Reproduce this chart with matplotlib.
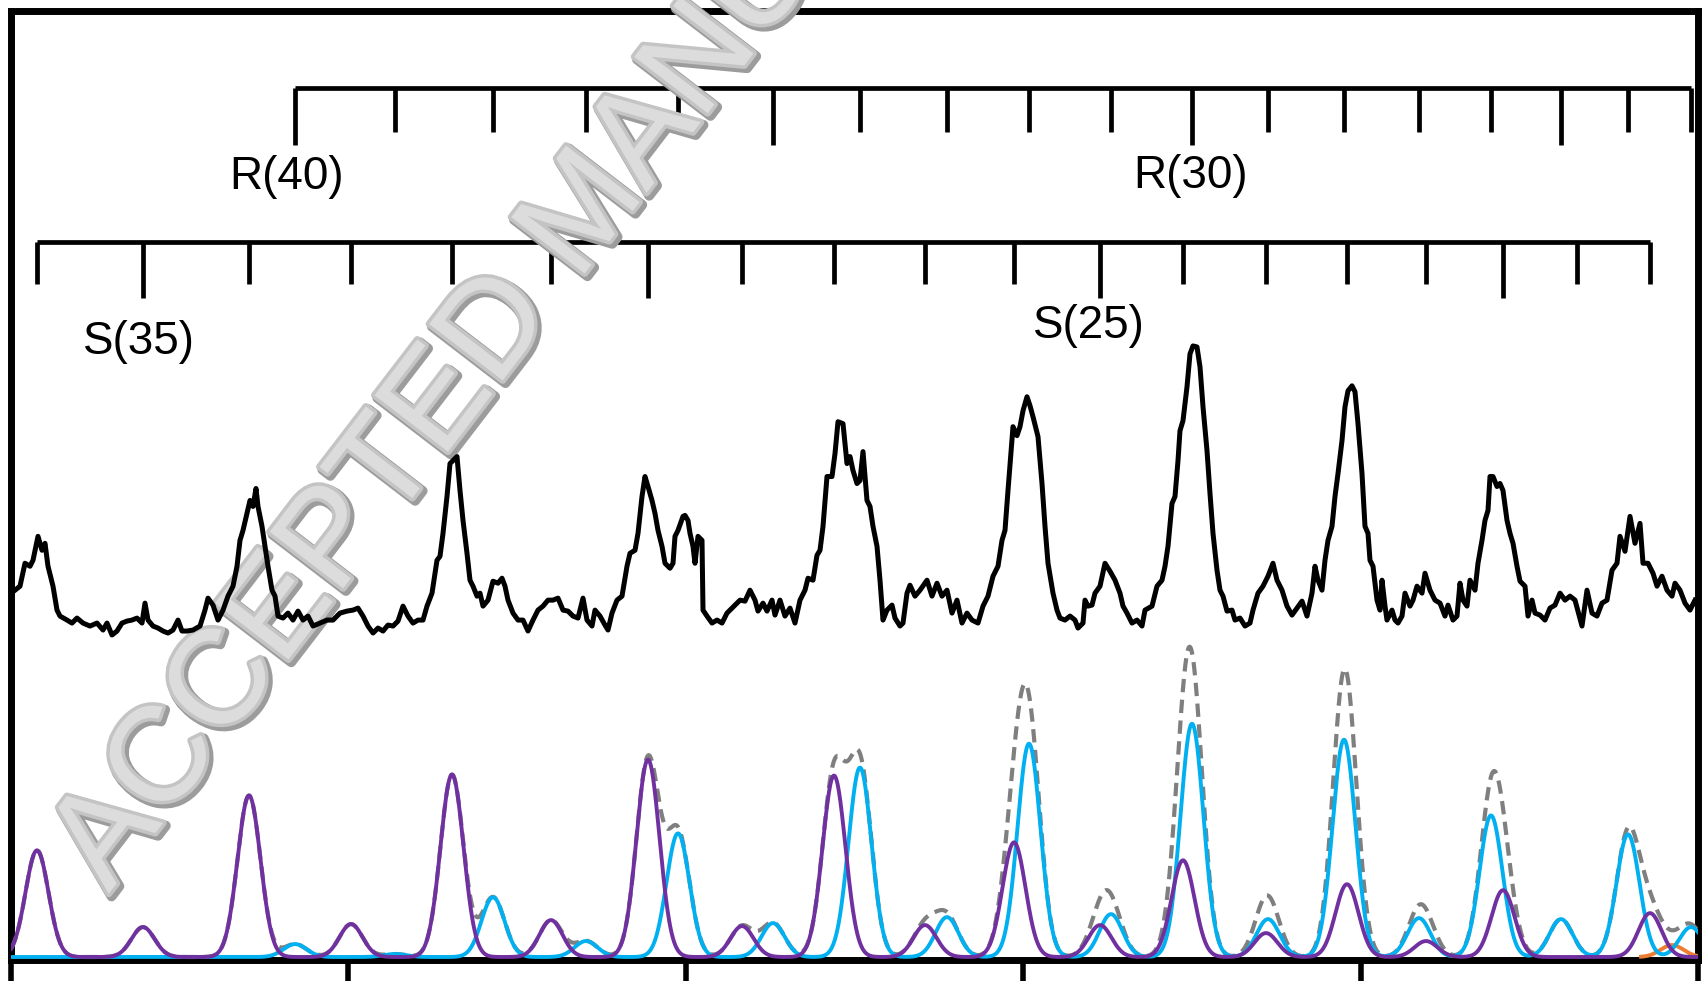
import numpy as np
import matplotlib
matplotlib.use("Agg")
import matplotlib.pyplot as plt
import matplotlib.patheffects as pe

# Measured spectrum: (shift, counts), arbitrary units
exp_points = [
    (4, 368), (9, 372), (14, 395), (19, 392), (22, 398), (27, 422), (31, 408), (34, 415),
    (37, 392), (42, 372), (46, 348), (49, 342), (56, 338), (61, 335), (66, 340), (72, 335),
    (79, 332), (86, 335), (92, 328), (96, 335), (101, 323), (106, 327), (111, 335), (116, 337),
    (121, 338), (126, 340), (131, 335), (134, 355), (137, 338), (142, 332), (147, 330), (152, 327),
    (157, 325), (162, 328), (167, 338), (171, 327), (176, 327), (182, 328), (189, 332), (194, 348),
    (197, 360), (202, 353), (207, 338), (212, 348), (217, 362), (222, 372), (226, 392), (229, 418),
    (232, 428), (236, 445), (239, 458), (242, 452), (245, 470), (247, 452), (251, 432), (254, 412),
    (257, 392), (261, 368), (264, 362), (267, 342), (272, 340), (277, 345), (282, 338), (287, 347),
    (292, 338), (297, 342), (302, 332), (309, 335), (316, 338), (322, 338), (329, 345),
    (336, 347), (342, 348), (347, 350), (352, 342), (357, 332), (362, 325), (367, 330), (372, 327),
    (377, 333), (382, 332), (387, 337), (392, 352), (397, 342), (402, 335), (407, 338), (412, 338),
    (416, 352), (421, 365), (426, 398), (429, 402), (432, 425), (436, 462), (439, 495), (442, 498),
    (446, 502), (449, 468), (452, 438), (456, 405), (459, 378), (462, 372), (466, 362), (469, 365),
    (472, 352), (477, 358), (482, 377), (487, 375), (491, 380), (494, 372), (497, 358), (502, 345),
    (507, 338), (512, 338), (517, 327), (522, 338), (527, 348), (532, 352), (537, 358), (542, 358),
    (547, 360), (552, 348), (557, 347), (562, 342), (567, 340), (572, 360), (576, 338), (581, 332),
    (584, 348), (589, 342), (594, 333), (597, 328), (601, 345), (606, 358), (611, 362), (616, 392),
    (619, 405), (624, 408), (627, 425), (631, 462), (634, 482), (637, 472), (641, 458), (644, 445),
    (647, 428), (651, 412), (654, 395), (659, 390), (662, 395), (664, 422), (667, 428), (672, 442),
    (674, 443), (677, 438), (679, 425), (682, 412), (684, 395), (687, 422), (691, 418), (692, 348),
    (696, 342), (701, 335), (706, 338), (711, 335), (716, 345), (721, 350), (726, 355), (729, 358),
    (734, 357), (739, 368), (744, 358), (747, 347), (752, 355), (756, 347), (761, 358), (764, 343),
    (769, 358), (774, 342), (779, 350), (784, 335), (789, 358), (794, 368), (797, 380), (802, 378),
    (806, 403), (809, 408), (812, 432), (816, 482), (821, 482), (824, 505), (827, 537), (832, 535),
    (836, 495), (839, 502), (842, 488), (846, 475), (849, 478), (852, 507), (856, 458), (859, 452),
    (862, 432), (866, 412), (869, 378), (872, 338), (876, 348), (881, 353), (884, 340), (889, 332),
    (892, 335), (896, 365), (899, 373), (904, 362), (909, 368), (916, 378), (921, 362), (926, 375),
    (931, 362), (936, 368), (941, 345), (946, 358), (951, 335), (956, 345), (961, 338), (967, 335),
    (972, 352), (977, 362), (982, 382), (987, 392), (991, 418), (994, 428), (997, 468), (1002, 532),
    (1006, 523), (1009, 532), (1012, 548), (1016, 562), (1019, 553), (1022, 542), (1027, 522),
    (1031, 475), (1034, 432), (1037, 395), (1042, 365), (1046, 348), (1049, 340), (1054, 338),
    (1059, 342), (1064, 338), (1067, 330), (1072, 335), (1074, 358), (1077, 352), (1081, 353),
    (1084, 365), (1089, 372), (1094, 395), (1099, 387), (1104, 378), (1109, 365), (1112, 352),
    (1116, 345), (1121, 335), (1126, 338), (1131, 332), (1134, 348), (1141, 352), (1146, 372),
    (1151, 378), (1154, 392), (1157, 412), (1161, 455), (1164, 462), (1167, 498), (1169, 528),
    (1172, 538), (1176, 572), (1179, 605), (1182, 613), (1186, 612), (1189, 592), (1192, 552),
    (1196, 508), (1199, 465), (1202, 425), (1206, 388), (1209, 368), (1212, 362), (1216, 347),
    (1221, 348), (1224, 338), (1229, 340), (1234, 332), (1239, 335), (1242, 348), (1247, 365),
    (1252, 372), (1257, 382), (1262, 395), (1266, 378), (1271, 368), (1276, 352), (1281, 343),
    (1286, 350), (1291, 357), (1296, 342), (1301, 365), (1304, 392), (1307, 378), (1311, 368),
    (1314, 398), (1317, 418), (1321, 432), (1324, 462), (1327, 485), (1331, 518), (1334, 552),
    (1337, 568), (1341, 573), (1344, 567), (1347, 535), (1351, 485), (1354, 432), (1357, 425),
    (1359, 398), (1362, 392), (1366, 358), (1369, 348), (1371, 378), (1374, 352), (1376, 338),
    (1381, 348), (1384, 338), (1387, 335), (1391, 342), (1394, 365), (1399, 352), (1402, 358),
    (1406, 372), (1411, 365), (1414, 385), (1419, 368), (1424, 358), (1429, 355), (1434, 342),
    (1437, 353), (1442, 338), (1446, 342), (1449, 375), (1452, 358), (1456, 352), (1459, 378),
    (1464, 368), (1467, 395), (1471, 418), (1474, 438), (1477, 448), (1479, 482), (1482, 482),
    (1486, 472), (1489, 475), (1492, 468), (1496, 438), (1499, 425), (1502, 415), (1506, 392),
    (1509, 377), (1514, 372), (1517, 342), (1521, 358), (1524, 345), (1529, 343), (1534, 338),
    (1539, 350), (1544, 353), (1549, 365), (1554, 358), (1559, 362), (1564, 358), (1571, 332),
    (1576, 368), (1581, 345), (1586, 342), (1591, 355), (1596, 358), (1601, 388), (1606, 395),
    (1609, 422), (1614, 407), (1619, 442), (1624, 415), (1629, 435), (1632, 395), (1637, 395),
    (1642, 385), (1646, 372), (1651, 382), (1656, 368), (1661, 362), (1664, 375), (1669, 368),
    (1674, 355), (1679, 348), (1684, 358),
]

# S-branch lines, J = 36 ... 18
s_j = list(range(36, 17, -1))
s_pos = [26, 132, 238, 340, 441, 540, 637, 731, 823, 914, 1003, 1089, 1172, 1255,
         1336, 1415, 1492, 1566, 1639]
s_int = [107, 30, 162, 33, 183, 37, 198, 31, 182, 32, 115, 32, 97, 24, 73, 16, 67, 0, 44]

# R-branch lines, J = 40 ... 23
r_j = list(range(40, 22, -1))
r_pos = [284, 384, 482, 575, 667, 762, 849, 936, 1018, 1100, 1181, 1257, 1333, 1408,
         1480, 1550, 1617, 1680]
r_int = [13, 3, 60, 16, 124, 34, 190, 40, 214, 43, 234, 38, 218, 39, 142, 38, 123, 30]

# weak extra band at the high end
o_pos = [1661]
o_int = [12]

line_sigma = 11.5
x_max = 1687
y_max = 949


def band(x, pos, inten, sigma=line_sigma):
    y = np.zeros_like(x)
    for p, a in zip(pos, inten):
        y += a * np.exp(-0.5 * ((x - p) / sigma) ** 2)
    return y


x = np.linspace(0, x_max, 4000)
s_sim = band(x, s_pos, s_int)
r_sim = band(x, r_pos, r_int)
o_sim = band(x, o_pos, o_int)
total = s_sim + r_sim + o_sim

exp_x = [p[0] for p in exp_points]
exp_y = [p[1] for p in exp_points]

plt.rcParams["font.family"] = ["Liberation Sans", "DejaVu Sans"]
fig = plt.figure(figsize=(17.02, 9.81), dpi=100)
ax = fig.add_axes([11 / 1702, 21 / 981, 1687 / 1702, 949 / 981])
ax.set_xlim(0, x_max)
ax.set_ylim(-3, y_max)

for s in ax.spines.values():
    s.set_linewidth(5)
    s.set_zorder(2.2)
ax.set_xticks(np.linspace(0, x_max, 6))
ax.set_yticks([])
ax.tick_params(axis="x", direction="out", length=16, width=4, labelbottom=False)


# line-position ladders
def ladder(pos, js, y_line, short, long):
    ax.plot([pos[0], pos[-1]], [y_line, y_line], color="black", lw=3.4,
            solid_capstyle="butt", zorder=1.5)
    for p, j in zip(pos, js):
        drop = long if j % 5 == 0 else short
        ax.plot([p, p], [y_line, y_line - drop], color="black", lw=3.4,
                solid_capstyle="butt", zorder=1.5)


ladder(r_pos, r_j, 872, 44, 57)
ladder(s_pos, s_j, 717, 42, 56)

lab_kw = dict(fontsize=33, ha="center", va="center", zorder=1.6)
ax.text(276, 782, "R(40)", **lab_kw)
ax.text(1180, 783, "R(30)", **lab_kw)
ax.text(128, 617, "S(35)", **lab_kw)
ax.text(1078, 633, "S(25)", **lab_kw)

# simulated bands
ax.plot(x, np.where(o_sim > 0.3, o_sim, np.nan), color="#ED7D31", lw=2.8, zorder=3)
ax.plot(x, total, color="#7F7F7F", lw=3.0, ls=(0, (3.2, 1.8)), zorder=3.1)
ax.plot(x, r_sim, color="#00B0F0", lw=2.8, zorder=3.2)
ax.plot(x, s_sim, color="#7030A0", lw=2.8, zorder=3.3)

# experiment
ax.plot(exp_x, exp_y, color="black", lw=3.6, solid_joinstyle="round", zorder=4)

ax.text(0.0638, 0.0887, "ACCEPTED MANUSCRIPT", transform=fig.transFigure,
        rotation=52.5, rotation_mode="anchor", ha="left", va="baseline",
        fontsize=97, color="#dcdcdc", zorder=2.8, clip_on=False,
        path_effects=[
            pe.Stroke(linewidth=7, foreground="#9c9c9c", offset=(2, -2)),
            pe.Stroke(linewidth=5, foreground="#c4c4c4"),
            pe.Normal(),
        ])

fig.savefig("out.png", dpi=100)
